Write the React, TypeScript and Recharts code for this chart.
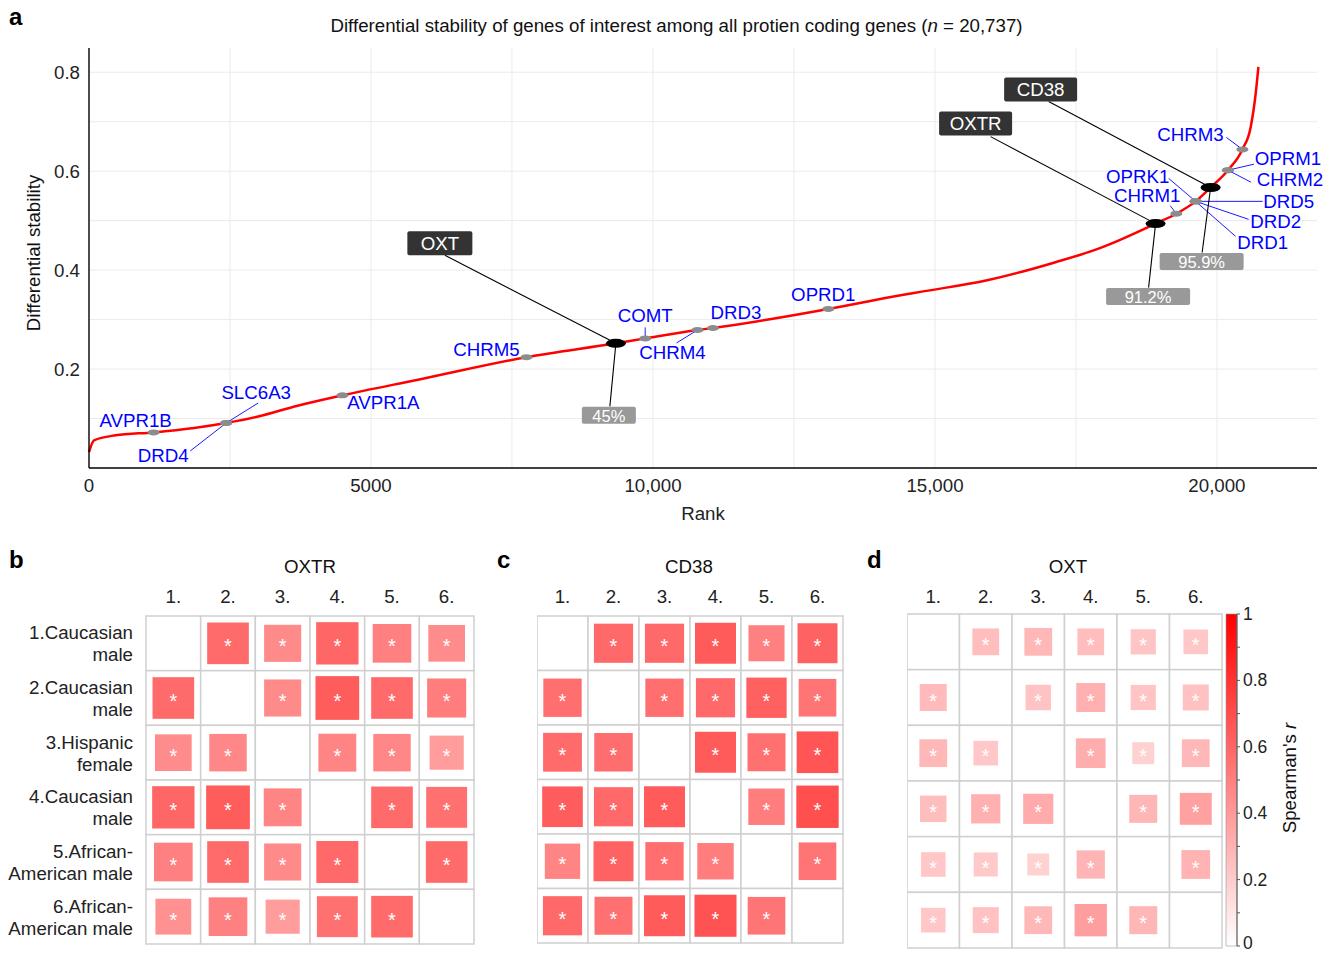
import React from 'react';
import { ComposedChart, ScatterChart, BarChart, Bar, Line, Scatter, XAxis, YAxis, CartesianGrid } from 'recharts';

const FONT = '"Liberation Sans", Arial, Helvetica, sans-serif';
const FS = 18.7;

// ---- panel a: ranked differential stability curve ----
const CURVE_RANKS = [0, 89, 468, 1146, 1863, 2433, 3000, 3700, 4493, 5856, 7757, 9342, 9862, 10790, 11063, 13109, 14391, 14741, 15926, 17108, 17937, 18912, 19279, 19622, 19888, 20195, 20451, 20598, 20687, 20735];
const CURVE_VALUES = [0.032, 0.056, 0.066, 0.072, 0.081, 0.091, 0.104, 0.126, 0.147, 0.179, 0.224, 0.252, 0.262, 0.279, 0.283, 0.3215, 0.349, 0.356, 0.3795, 0.415, 0.445, 0.494, 0.514, 0.539, 0.567, 0.602, 0.644, 0.689, 0.757, 0.811];

const GENES = ['AVPR1B', 'DRD4', 'SLC6A3', 'AVPR1A', 'CHRM5', 'COMT', 'CHRM4', 'DRD3', 'OPRD1', 'CHRM1', 'OPRK1', 'DRD5', 'DRD2', 'DRD1', 'OPRM1', 'CHRM2', 'CHRM3'];
const GENE_RANKS = [1146, 2433, 2433, 4493, 7757, 9862, 10790, 11063, 13109, 19279, 19622, 19622, 19622, 19622, 20195, 20195, 20451];
const GENE_VALUES = [0.072, 0.091, 0.091, 0.147, 0.224, 0.262, 0.279, 0.283, 0.3215, 0.514, 0.539, 0.539, 0.539, 0.539, 0.602, 0.602, 0.644];

const KEY_GENES = ['OXT', 'OXTR', 'CD38'];
const KEY_RANKS = [9342, 18912, 19888];
const KEY_VALUES = [0.252, 0.494, 0.567];
const KEY_PERCENTILES = ['45%', '91.2%', '95.9%'];

const X_TICKS = [0, 5000, 10000, 15000, 20000];
const X_GRID = [2500, 5000, 7500, 10000, 12500, 15000, 17500, 20000];
const Y_TICKS = [0.2, 0.4, 0.6, 0.8];
const Y_GRID = [0.1, 0.2, 0.3, 0.4, 0.5, 0.6, 0.7, 0.8];

// ---- panels b-d: Spearman's r between cohorts ----
const COHORT_TICKS = [1, 2, 3, 4, 5, 6];
const ROW_LABELS = [
  ['1.Caucasian', 'male'],
  ['2.Caucasian', 'male'],
  ['3.Hispanic', 'female'],
  ['4.Caucasian', 'male'],
  ['5.African-', 'American male'],
  ['6.African-', 'American male'],
];

const OXTR_R = [
  [null, 0.58, 0.46, 0.6, 0.5, 0.45],
  [0.58, null, 0.46, 0.64, 0.58, 0.51],
  [0.45, 0.47, null, 0.48, 0.47, 0.39],
  [0.6, 0.64, 0.48, null, 0.58, 0.56],
  [0.5, 0.58, 0.46, 0.59, null, 0.58],
  [0.43, 0.5, 0.39, 0.56, 0.58, null],
];
const CD38_R = [
  [null, 0.59, 0.59, 0.645, 0.5, 0.615],
  [0.565, null, 0.565, 0.59, 0.625, 0.545],
  [0.58, 0.57, null, 0.645, 0.555, 0.668],
  [0.635, 0.59, 0.645, null, 0.51, 0.69],
  [0.48, 0.615, 0.565, 0.51, null, 0.545],
  [0.59, 0.555, 0.645, 0.68, 0.545, null],
];
const OXT_R = [
  [null, 0.26, 0.28, 0.26, 0.23, 0.22],
  [0.265, null, 0.235, 0.305, 0.23, 0.245],
  [0.28, 0.22, null, 0.32, 0.175, 0.28],
  [0.255, 0.31, 0.33, null, 0.285, 0.37],
  [0.22, 0.21, 0.175, 0.29, null, 0.3],
  [0.22, 0.245, 0.28, 0.38, 0.285, null],
];

const COLORBAR_TICKS = [0, 0.1, 0.2, 0.3, 0.4, 0.5, 0.6, 0.7, 0.8, 0.9, 1];

// label placement, pixel offsets from each marker
const GENE_LABEL_LAYOUT: Record<string, { dx: number; dy: number; lx?: number; ly?: number }> = {
  AVPR1B: { dx: -18, dy: -12 },
  DRD4: { dx: -63, dy: 33, lx: -36, ly: 28 },
  SLC6A3: { dx: 30, dy: -30, lx: 32, ly: -20 },
  AVPR1A: { dx: 41, dy: 7 },
  CHRM5: { dx: -40, dy: -8 },
  COMT: { dx: 0, dy: -23, lx: 0, ly: -11 },
  CHRM4: { dx: -25, dy: 23, lx: -21, ly: 13 },
  DRD3: { dx: 23, dy: -16 },
  OPRD1: { dx: -5, dy: -14 },
  CHRM1: { dx: -29, dy: -18, lx: -6, ly: -8 },
  OPRK1: { dx: -58, dy: -25, lx: -27, ly: -23 },
  DRD5: { dx: 93, dy: 0, lx: 67, ly: 0 },
  DRD2: { dx: 80, dy: 20, lx: 53, ly: 18 },
  DRD1: { dx: 67, dy: 41, lx: 40, ly: 35 },
  OPRM1: { dx: 60, dy: -12, lx: 26, ly: -6 },
  CHRM2: { dx: 62, dy: 9, lx: 23, ly: 12 },
  CHRM3: { dx: -52, dy: -15, lx: -16, ly: -12 },
};

const KEY_LABEL_LAYOUT: Record<string, any> = {
  OXT: { bx: -176, by: -100, bw: 65, lx: -171, ly: -88, px: -7, py: 72, pw: 54, plx: -6, ply: 63 },
  OXTR: { bx: -180, by: -100, bw: 73, lx: -165, ly: -87, px: -7.5, py: 73, pw: 84, plx: -7, ply: 64 },
  CD38: { bx: -170, by: -98, bw: 73, lx: -162, ly: -86, px: -9, py: 74, pw: 84, plx: -8.5, ply: 65 },
};

const curveData = CURVE_RANKS.map((rank, i) => ({ rank, value: CURVE_VALUES[i] }));
const geneData = GENES.map((gene, i) => ({ gene, rank: GENE_RANKS[i], value: GENE_VALUES[i] }));
const keyData = KEY_GENES.map((gene, i) => ({ gene, rank: KEY_RANKS[i], value: KEY_VALUES[i], pct: KEY_PERCENTILES[i] }));

const fmtRank = (v: number) => (v < 10000 ? String(v) : v.toLocaleString('en-US'));

const GeneMarker = (props: any) => {
  const { cx, cy, payload } = props;
  const lay = GENE_LABEL_LAYOUT[payload.gene];
  return (
    <g>
      {lay.lx !== undefined && (
        <line x1={cx} y1={cy} x2={cx + lay.lx} y2={cy + (lay.ly as number)} stroke="#0000ff" strokeWidth={0.9} />
      )}
      <ellipse cx={cx} cy={cy} rx={6} ry={3} fill="#8c8c8c" />
      <text x={cx + lay.dx} y={cy + lay.dy} textAnchor="middle" dominantBaseline="central" fill="#0000ff" fontSize={FS}>
        {payload.gene}
      </text>
    </g>
  );
};

const KeyMarker = (props: any) => {
  const { cx, cy, payload } = props;
  const l = KEY_LABEL_LAYOUT[payload.gene];
  return (
    <g>
      <line x1={cx} y1={cy} x2={cx + l.lx} y2={cy + l.ly} stroke="#000" strokeWidth={1.1} />
      <line x1={cx} y1={cy} x2={cx + l.plx} y2={cy + l.ply} stroke="#000" strokeWidth={1.1} />
      <ellipse cx={cx} cy={cy} rx={10} ry={4.5} fill="#000" />
      <rect x={cx + l.bx - l.bw / 2} y={cy + l.by - 12} width={l.bw} height={24} rx={2} fill="#333333" />
      <text x={cx + l.bx} y={cy + l.by} textAnchor="middle" dominantBaseline="central" fill="#fff" fontSize={FS}>
        {payload.gene}
      </text>
      <rect x={cx + l.px - l.pw / 2} y={cy + l.py - 8.5} width={l.pw} height={17} rx={2} fill="#999999" />
      <text x={cx + l.px} y={cy + l.py + 0.5} textAnchor="middle" dominantBaseline="central" fill="#fff" fontSize={16.5}>
        {payload.pct}
      </text>
    </g>
  );
};

const redScale = (r: number) => {
  const c = Math.round(255 * (1 - r));
  return `rgb(255,${c},${c})`;
};

const makeCell = (cw: number, ch: number) => (props: any) => {
  const { cx, cy, payload } = props;
  const r = payload.r;
  const side = r == null ? 0 : Math.sqrt(r) * cw;
  return (
    <g>
      <rect x={cx - cw / 2} y={cy - ch / 2} width={cw} height={ch} fill="#fff" stroke="#cfcfcf" strokeWidth={1.5} />
      {r != null && <rect x={cx - side / 2} y={cy - side / 2} width={side} height={side} fill={redScale(r)} />}
      {r != null && (
        <text x={cx} y={cy + 10} textAnchor="middle" fill="#fff" fontSize={20}>
          *
        </text>
      )}
    </g>
  );
};

const RowTick = (props: any) => {
  const { x, y, payload } = props;
  const lines = ROW_LABELS[payload.value - 1];
  return (
    <text textAnchor="end" fill="#222" fontSize={FS}>
      <tspan x={x} y={y - 4}>{lines[0]}</tspan>
      <tspan x={x} y={y + 18}>{lines[1]}</tspan>
    </text>
  );
};

// colour bar tick: labels on even tenths only, bottom label lifted off the page edge
const ColorbarTick = (props: any) => {
  const { x, y, payload } = props;
  const v = payload.value;
  const even = Math.round(v * 10) % 2 === 0;
  if (!even) return <g />;
  const label = v === 0 || v === 1 ? String(v) : v.toFixed(1);
  return (
    <text x={x} y={v === 0 ? y - 3 : y} textAnchor="start" dominantBaseline="central" fill="#222" fontSize={17.5}>
      {label}
    </text>
  );
};

interface MatrixProps {
  values: (number | null)[][];
  left: number;
  top: number;
  plotW: number;
  plotH: number;
  marginTop: number;
  tickMargin: number;
  rowLabels?: boolean;
}

function Matrix({ values, left, top, plotW, plotH, marginTop, tickMargin, rowLabels }: MatrixProps) {
  const data: { row: number; col: number; r: number | null }[] = [];
  values.forEach((row, i) => row.forEach((r, j) => data.push({ row: i + 1, col: j + 1, r })));
  const yW = rowLabels ? 146 : 0;
  const shape = makeCell(plotW / 6, plotH / 6);
  return (
    <div style={{ position: 'absolute', left: left - yW, top }}>
      <ScatterChart width={yW + plotW + 3} height={marginTop + 30 + plotH + 4} margin={{ top: marginTop, right: 3, bottom: 4, left: 0 }}>
        <XAxis
          type="number"
          dataKey="col"
          orientation="top"
          domain={[0.5, 6.5]}
          ticks={COHORT_TICKS}
          tickFormatter={(v: number) => `${v}.`}
          height={30}
          axisLine={false}
          tickLine={false}
          tickSize={0}
          tickMargin={tickMargin}
          tick={{ fill: '#222', fontSize: FS }}
        />
        <YAxis
          type="number"
          dataKey="row"
          domain={[0.5, 6.5]}
          reversed
          ticks={COHORT_TICKS}
          hide={!rowLabels}
          width={yW}
          axisLine={false}
          tickLine={false}
          tickSize={0}
          tickMargin={13}
          tick={RowTick}
        />
        <Scatter data={data} shape={shape} isAnimationActive={false} />
      </ScatterChart>
    </div>
  );
}

const textStyle = (left: number, top: number, extra: React.CSSProperties = {}): React.CSSProperties => ({
  position: 'absolute',
  left,
  top,
  fontSize: FS,
  lineHeight: '18px',
  color: '#111',
  whiteSpace: 'nowrap',
  ...extra,
});

const letterStyle = (left: number, top: number): React.CSSProperties => ({
  position: 'absolute',
  left,
  top,
  fontSize: 24,
  lineHeight: '24px',
  fontWeight: 'bold',
  color: '#000',
});

export default function App() {
  return (
    <div style={{ position: 'absolute', left: 0, top: 0, width: 1333, height: 953, overflow: 'hidden', background: '#fff', fontFamily: FONT }}>
      <div style={letterStyle(9, 5)}>a</div>
      <div style={textStyle(676.5, 17, { transform: 'translateX(-50%)' })}>
        Differential stability of genes of interest among all protien coding genes (<i>n</i> = 20,737)
      </div>
      <div style={textStyle(-66, 244, { width: 200, textAlign: 'center', transform: 'rotate(-90deg)' })}>Differential stability</div>

      <div style={{ position: 'absolute', left: 0, top: 0 }}>
        <ComposedChart width={1333} height={530} margin={{ top: 48, right: 16, bottom: 0, left: 0 }}>
          <CartesianGrid stroke="#ebebeb" strokeWidth={1} horizontalValues={Y_GRID} verticalValues={X_GRID} />
          <XAxis
            type="number"
            dataKey="rank"
            domain={[0, 21774]}
            ticks={X_TICKS}
            tickFormatter={fmtRank}
            height={62}
            axisLine={{ stroke: '#000', strokeWidth: 1.4 }}
            tickLine={false}
            tickSize={4}
            tickMargin={7}
            tick={{ fill: '#222', fontSize: FS }}
            label={{ value: 'Rank', position: 'insideBottom', offset: 10, fill: '#222', fontSize: FS }}
          />
          <YAxis
            type="number"
            domain={[0, 0.849]}
            ticks={Y_TICKS}
            width={89}
            axisLine={{ stroke: '#000', strokeWidth: 1.4 }}
            tickLine={false}
            tickSize={4}
            tickMargin={5}
            tick={{ fill: '#222', fontSize: FS }}
          />
          <Line data={curveData} dataKey="value" type="monotone" stroke="#ff0000" strokeWidth={2.5} dot={false} isAnimationActive={false} />
          <Scatter data={geneData} dataKey="value" shape={GeneMarker} isAnimationActive={false} />
          <Scatter data={keyData} dataKey="value" shape={KeyMarker} isAnimationActive={false} />
        </ComposedChart>
      </div>

      <div style={letterStyle(9, 548)}>b</div>
      <div style={letterStyle(497, 548)}>c</div>
      <div style={letterStyle(867, 548)}>d</div>
      <div style={textStyle(310, 558, { transform: 'translateX(-50%)' })}>OXTR</div>
      <div style={textStyle(689, 558, { transform: 'translateX(-50%)' })}>CD38</div>
      <div style={textStyle(1068, 558, { transform: 'translateX(-50%)' })}>OXT</div>

      <Matrix values={OXTR_R} left={146} top={545} plotW={328} plotH={328} marginTop={41} tickMargin={13} rowLabels />
      <Matrix values={CD38_R} left={537} top={545} plotW={306} plotH={327} marginTop={41} tickMargin={13} />
      <Matrix values={OXT_R} left={907} top={545} plotW={315} plotH={334} marginTop={39} tickMargin={11} />

      <div style={{ position: 'absolute', left: 1200, top: 598 }}>
        <BarChart width={100} height={354} data={[{ name: 'r', v: 1 }]} margin={{ top: 16, right: 0, bottom: 6, left: 26 }} barCategoryGap={0}>
          <defs>
            <linearGradient id="spearmanGrad" x1="0" y1="0" x2="0" y2="1">
              <stop offset="0" stopColor="#ff0000" />
              <stop offset="1" stopColor="#ffffff" />
            </linearGradient>
          </defs>
          <XAxis dataKey="name" hide />
          <YAxis
            orientation="right"
            type="number"
            domain={[0, 1]}
            ticks={COLORBAR_TICKS}
            interval={0}
            width={63}
            axisLine={{ stroke: '#555' }}
            tickLine={{ stroke: '#555' }}
            tickSize={3}
            tickMargin={3}
            tick={ColorbarTick}
          />
          <Bar dataKey="v" fill="url(#spearmanGrad)" stroke="#999" strokeWidth={0.6} isAnimationActive={false} />
        </BarChart>
      </div>
      <div style={textStyle(1190, 769, { width: 200, textAlign: 'center', transform: 'rotate(-90deg)' })}>
        Spearman's <i>r</i>
      </div>
    </div>
  );
}
